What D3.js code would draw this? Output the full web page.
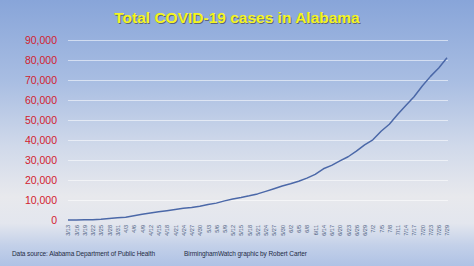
<!DOCTYPE html>
<html>
<head>
<meta charset="utf-8">
<script src="https://cdn.jsdelivr.net/npm/d3@7/dist/d3.min.js"></script>
<style>
  html, body { margin: 0; padding: 0; }
  body { width: 474px; height: 266px; overflow: hidden; }
  svg { display: block; }
</style>
</head>
<body>
<svg id="chart" width="474" height="266"></svg>
<script>
// Alabama cumulative cases, one point every 3 days (same dates as the axis labels)
var dates = ['3/13', '3/16', '3/19', '3/22', '3/25', '3/28', '3/31', '4/3', '4/6', '4/9',
  '4/12', '4/15', '4/18', '4/21', '4/24', '4/27', '4/30', '5/3', '5/6', '5/9',
  '5/12', '5/15', '5/18', '5/21', '5/24', '5/27', '5/30', '6/2', '6/5', '6/8',
  '6/11', '6/14', '6/17', '6/20', '6/23', '6/26', '6/29', '7/2', '7/5', '7/8',
  '7/11', '7/14', '7/17', '7/20', '7/23', '7/26', '7/29'];
var cases = [6, 36, 68, 167, 386, 806, 1077, 1432, 2119, 2838,
  3525, 4075, 4655, 5231, 5832, 6213, 6912, 7725, 8437, 9567,
  10464, 11216, 12086, 13052, 14327, 15650, 17031, 18085, 19387, 20925,
  22845, 25615, 27312, 29549, 31624, 34450, 37536, 40111, 44375, 47862,
  52695, 57255, 61642, 67011, 71813, 76005, 81115];
var yTicks = [0, 10000, 20000, 30000, 40000, 50000, 60000, 70000, 80000, 90000];

var title = 'Total COVID-19 cases in Alabama';
var sourceNote = 'Data source: Alabama Department of Public Health';
var creditNote = 'BirminghamWatch graphic by Robert Carter';

var svg = d3.select('#chart');
var W = 474, H = 266;
var m = {left: 68, right: 27, top: 40, bottom: 46};

// background gradient
var defs = svg.append('defs');
var grad = defs.append('linearGradient').attr('id', 'bg')
  .attr('x1', 0).attr('y1', 0).attr('x2', 0).attr('y2', 1);
[['0%', '#88a5d9'], ['30%', '#a8bde2'], ['55%', '#d0d9ea'], ['74%', '#e8e9ed'],
 ['84%', '#e3e6ee'], ['92%', '#c4d1e9'], ['100%', '#afc2e5']].forEach(function(s) {
  grad.append('stop').attr('offset', s[0]).attr('stop-color', s[1]);
});
svg.append('rect').attr('width', W).attr('height', H).attr('fill', 'url(#bg)');

var x = d3.scalePoint().domain(dates).range([m.left, W - m.right]);
var y = d3.scaleLinear().domain([0, 90000]).range([H - m.bottom, m.top]);

// gridlines
svg.append('g').selectAll('line')
  .data(yTicks.filter(function(d) { return d > 0; })).enter().append('line')
  .attr('x1', m.left).attr('x2', W - m.right + 1)
  .attr('y1', function(d) { return y(d) + 0.5; })
  .attr('y2', function(d) { return y(d) + 0.5; })
  .attr('stroke', '#ffffff').attr('stroke-opacity', 0.55).attr('stroke-width', 1);

// y axis labels
var yAxis = d3.axisLeft(y).tickValues(yTicks).tickSize(0).tickPadding(0)
  .tickFormat(d3.format(','));
var ya = svg.append('g').attr('transform', 'translate(57,0)').call(yAxis);
ya.select('.domain').remove();
ya.selectAll('text')
  .attr('fill', '#d3202e')
  .style('font-family', '"Liberation Sans", Arial, sans-serif')
  .style('font-size', '10.5px')
  .attr('dy', '0.35em');

// x axis labels, rotated
var xAxis = d3.axisBottom(x).tickSize(0).tickPadding(0);
var xa = svg.append('g').attr('transform', 'translate(0,' + (H - m.bottom) + ')').call(xAxis);
xa.select('.domain').remove();
xa.selectAll('text')
  .attr('fill', '#4d5d80')
  .style('font-family', '"Liberation Sans", Arial, sans-serif')
  .style('font-size', '5.5px')
  .attr('text-anchor', 'end')
  .attr('transform', 'rotate(-90)')
  .attr('x', -5).attr('y', 0).attr('dy', '0.35em');

// line
var line = d3.line()
  .x(function(d, i) { return x(dates[i]); })
  .y(function(d) { return y(d); });
svg.append('path').datum(cases)
  .attr('d', line)
  .attr('fill', 'none')
  .attr('stroke', '#4b68a8')
  .attr('stroke-width', 1.5)
  .attr('stroke-linejoin', 'round');

// title with shadow
var tfont = '"Liberation Sans", Arial, sans-serif';
svg.append('text').attr('x', 238).attr('y', 24.2).attr('text-anchor', 'middle')
  .style('font-family', tfont).style('font-weight', 'bold').style('font-size', '15.5px')
  .attr('fill', '#3a3a3a').attr('fill-opacity', 0.6).text(title);
svg.append('text').attr('x', 237).attr('y', 23).attr('text-anchor', 'middle')
  .style('font-family', tfont).style('font-weight', 'bold').style('font-size', '15.5px')
  .attr('fill', '#f4f51e').text(title);

// footer notes
svg.append('text').attr('x', 12).attr('y', 256)
  .style('font-family', tfont).style('font-size', '6.5px')
  .attr('fill', '#1f2b45').attr('textLength', 143).text(sourceNote);
svg.append('text').attr('x', 184).attr('y', 256)
  .style('font-family', tfont).style('font-size', '6.5px')
  .attr('fill', '#1f2b45').attr('textLength', 123).text(creditNote);
</script>
</body>
</html>
